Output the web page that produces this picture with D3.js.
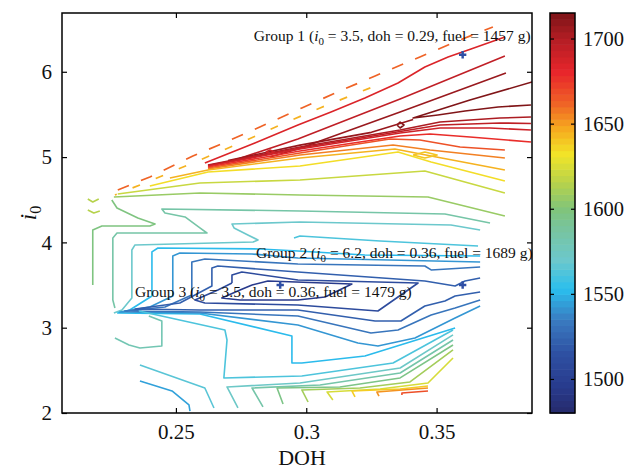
<!DOCTYPE html>
<html>
<head>
<meta charset="utf-8">
<script src="https://cdn.jsdelivr.net/npm/d3@7"></script>
<style>
body { margin: 0; background: #fff; }
svg text { font-family: "Liberation Serif", "DejaVu Serif", serif; fill: #111; }
</style>
</head>
<body>
<svg id="chart" width="627" height="471"></svg>
<script>
// axis setup
const xTicks = [0.25, 0.3, 0.35];
const yTicks = [2, 3, 4, 5, 6];
const cbTicks = [1500, 1550, 1600, 1650, 1700];
const xDomain = [0.2063, 0.3866];
const yDomain = [2, 6.689];
const cbDomain = [1480, 1715];

// colour map (fuel, g)
const stopValues = [1480, 1495, 1515, 1535, 1553, 1570, 1590, 1600, 1615, 1632, 1648, 1662, 1680, 1700, 1715];
const stopColors = ["#262a6b", "#283a8c", "#2e50a2", "#3a7cc1", "#2abfee", "#6cc8cc", "#79c49a", "#80c47a",
                    "#b6d24c", "#f2e528", "#f6a61e", "#ef6326", "#e8262b", "#b31d24", "#7c1417"];

// contour lines: [level, [[doh, i0], ...]]
const dashedLines = [
    [1662, [[0.2277,4.614],[0.2400,4.767],[0.2565,5.013],[0.2665,5.142],[0.2822,5.353],[0.2983,5.576],[0.3129,5.775],[0.3264,5.951],[0.3436,6.174],[0.3590,6.373],[0.3716,6.525]]],
    [1645, [[0.2266,4.556],[0.2400,4.720],[0.2592,4.966],[0.2746,5.165],[0.2899,5.376],[0.3053,5.576],[0.3206,5.763],[0.3302,5.880]]]
];

const topLines = [
    [1685, [[0.2611,4.931],[0.2803,5.165],[0.2968,5.376],[0.3095,5.529],[0.3225,5.693],[0.3352,5.869],[0.3455,6.056],[0.3544,6.174],[0.3632,6.267],[0.3762,6.408]]],
    [1695, [[0.2726,4.966],[0.2968,5.212],[0.3360,5.681],[0.3762,6.185]]],
    [1707, [[0.2861,5.001],[0.2968,5.095],[0.3360,5.529],[0.3766,5.986]]],
    [1714, [[0.3866,5.880],[0.3628,5.669],[0.3410,5.458],[0.3505,5.494],[0.3609,5.540],[0.3736,5.587],[0.3862,5.611]]],
    [1714, [[0.3348,5.376],[0.3360,5.411],[0.3375,5.376],[0.3360,5.341],[0.3348,5.376]]]
];

const bandLines = [
    [1708, [[0.2700,4.960],[0.2976,5.140],[0.3250,5.290],[0.3410,5.440]]],
    [1702, [[0.2623,4.907],[0.2976,5.118],[0.3360,5.318],[0.3513,5.411],[0.3743,5.458],[0.3862,5.470]]],
    [1696, [[0.2623,4.902],[0.2976,5.106],[0.3360,5.300],[0.3513,5.376],[0.3743,5.400],[0.3862,5.394]]],
    [1690, [[0.2623,4.896],[0.2976,5.095],[0.3360,5.283],[0.3513,5.341],[0.3705,5.341],[0.3862,5.318]]],
    [1678, [[0.2623,4.884],[0.2976,5.072],[0.3360,5.247],[0.3475,5.271],[0.3628,5.236],[0.3862,5.177]]],
    [1667, [[0.2623,4.872],[0.2976,5.048],[0.3321,5.212],[0.3436,5.200],[0.3590,5.118],[0.3762,5.083]]],
    [1656, [[0.2623,4.860],[0.2976,5.025],[0.3333,5.142],[0.3475,5.083],[0.3762,4.989]]],
    [1645, [[0.2477,4.755],[0.2623,4.849],[0.2976,4.989],[0.3340,5.095],[0.3479,5.013],[0.3762,4.849]]],
    [1634, [[0.2400,4.661],[0.2623,4.825],[0.2976,4.896],[0.3352,5.060],[0.3479,4.943],[0.3762,4.720]]],
    [1640, [[0.3410,5.025],[0.3455,5.060],[0.3502,5.025],[0.3455,4.989],[0.3410,5.025]]],
    [1690, [[0.2845,5.060],[0.2861,5.083],[0.2876,5.060],[0.2861,5.036],[0.2845,5.060]]]
];

const midLines = [
    [1620, [[0.2277,4.567],[0.2592,4.696],[0.2976,4.732],[0.3455,4.837],[0.3762,4.579]]],
    [1607, [[0.2262,4.532],[0.2592,4.579],[0.2976,4.556],[0.3467,4.532],[0.3762,4.309]]],
    [1598, [[0.2254,4.497],[0.2274,4.403],[0.2354,4.286],[0.2420,4.216],[0.2400,4.192],[0.2216,4.192],[0.2181,4.145],[0.2181,3.501]]],
    [1585, [[0.3705,4.227],[0.3532,4.333],[0.2976,4.368],[0.2446,4.392],[0.2458,4.345],[0.2535,4.298],[0.2592,4.169],[0.2619,4.110],[0.2274,4.110],[0.2258,4.052],[0.2258,3.325],[0.2266,3.231]]],
    [1570, [[0.3667,4.145],[0.3555,4.204],[0.2976,4.239],[0.2715,4.216],[0.2723,4.169],[0.2776,4.087],[0.2815,4.028],[0.2796,4.005],[0.2343,3.970],[0.2331,3.911],[0.2331,3.348],[0.2293,3.208],[0.2262,3.172]]],
    [1615, [[0.2162,4.509],[0.2181,4.474],[0.2204,4.509]]],
    [1615, [[0.2162,4.380],[0.2185,4.345],[0.2208,4.368]]],
    [1562, [[0.2953,4.052],[0.2976,4.075],[0.3283,4.016],[0.3659,3.958]]]
];

const blueLines = [
    [1552, [[0.3667,3.841],[0.3225,3.852],[0.2968,3.899],[0.2822,3.923],[0.2431,3.934],[0.2408,3.888],[0.2408,3.372],[0.2323,3.208],[0.2277,3.172],[0.2592,3.161],[0.2945,2.903],[0.2945,2.586],[0.2983,2.586],[0.3225,2.668],[0.3571,2.997]]],
    [1542, [[0.3667,3.770],[0.2968,3.817],[0.2792,3.864],[0.2515,3.876],[0.2488,3.841],[0.2488,3.372],[0.2400,3.243],[0.2285,3.184],[0.2592,3.172],[0.2968,3.032],[0.3198,2.821],[0.3275,2.785],[0.3417,2.879],[0.3571,3.114],[0.3667,3.254]]],
    [1532, [[0.3667,3.712],[0.3479,3.677],[0.3455,3.723],[0.2968,3.747],[0.2611,3.806],[0.2561,3.770],[0.2561,3.383],[0.2458,3.243],[0.2304,3.196],[0.2592,3.184],[0.2968,3.137],[0.3248,2.938],[0.3352,2.973],[0.3479,3.149],[0.3571,3.231],[0.3667,3.325]]],
    [1522, [[0.3667,3.583],[0.3609,3.548],[0.3571,3.489],[0.3455,3.548],[0.2968,3.653],[0.2661,3.723],[0.2638,3.700],[0.2638,3.489],[0.2515,3.290],[0.2343,3.219],[0.2592,3.208],[0.2968,3.208],[0.3264,3.078],[0.3363,3.078],[0.3455,3.254],[0.3532,3.313],[0.3571,3.372],[0.3667,3.419]]],
    [1510, [[0.2715,3.524],[0.2715,3.618],[0.2753,3.653],[0.2968,3.559],[0.3429,3.524],[0.3275,3.196],[0.2968,3.266],[0.2611,3.290],[0.2573,3.325],[0.2661,3.442],[0.2715,3.524]]],
    [1495, [[0.2792,3.501],[0.2853,3.548],[0.3175,3.512],[0.3072,3.360],[0.2968,3.325],[0.2746,3.325],[0.2676,3.348],[0.2746,3.442],[0.2792,3.501]]]
];

const bottomLines = [
    [1562, [[0.2358,3.196],[0.2688,2.973],[0.2696,2.856],[0.2684,2.411],[0.2983,2.434],[0.3333,2.586],[0.3563,2.973]]],
    [1572, [[0.2738,2.059],[0.2696,2.305],[0.2976,2.352],[0.3360,2.528],[0.3563,2.915]]],
    [1584, [[0.2834,2.071],[0.2792,2.293],[0.3053,2.328],[0.3360,2.469],[0.3563,2.856]]],
    [1596, [[0.2911,2.106],[0.2888,2.293],[0.3129,2.305],[0.3360,2.411],[0.3563,2.797]]],
    [1610, [[0.3007,2.129],[0.2983,2.270],[0.3206,2.293],[0.3398,2.364],[0.3563,2.739]]],
    [1624, [[0.3102,2.152],[0.3080,2.246],[0.3283,2.282],[0.3467,2.352],[0.3563,2.645]]],
    [1638, [[0.3187,2.188],[0.3175,2.258],[0.3360,2.282],[0.3467,2.317]]],
    [1652, [[0.3279,2.199],[0.3271,2.246],[0.3467,2.293]]],
    [1668, [[0.3367,2.211],[0.3367,2.234],[0.3467,2.258]]],
    [1580, [[0.2266,2.879],[0.2320,2.797],[0.2362,2.762],[0.2446,2.785],[0.2446,3.078],[0.2396,3.137]]],
    [1565, [[0.2362,2.563],[0.2611,2.293],[0.2646,2.059]]],
    [1545, [[0.2362,2.375],[0.2485,2.258],[0.2550,2.094],[0.2554,2.023]]]
];

// optimum points and their labels
const optima = [[0.36, 6.2], [0.29, 3.5], [0.36, 3.5]];
const labelPos = [[0.2799, 6.361], [0.2807, 3.817], [0.2343, 3.360]];
const labelGroup = ["Group 1", "Group 2", "Group 3"];
const labelI0 = ["3.5", "6.2", "3.5"];
const labelDoh = ["0.29", "0.36", "0.36"];
const labelFuel = ["1457", "1689", "1479"];

const svg = d3.select("#chart");
const margin = {left: 62, right: 95, top: 13, bottom: 58};
const W = 627, H = 471;

const x = d3.scaleLinear().domain(xDomain).range([margin.left, W - margin.right]);
const y = d3.scaleLinear().domain(yDomain).range([H - margin.bottom, margin.top]);
const color = d3.scaleLinear().domain(stopValues).range(stopColors).interpolate(d3.interpolateRgb);

svg.append("clipPath").attr("id", "plotclip")
    .append("rect")
    .attr("x", x.range()[0]).attr("y", y.range()[1])
    .attr("width", x.range()[1] - x.range()[0])
    .attr("height", y.range()[0] - y.range()[1]);

const line = d3.line().x(d => x(d[0])).y(d => y(d[1]));
const plot = svg.append("g").attr("clip-path", "url(#plotclip)");

const solid = [].concat(topLines, bandLines, midLines, blueLines, bottomLines);

plot.selectAll("path.contour")
    .data(solid)
    .enter().append("path")
    .attr("class", "contour")
    .attr("fill", "none")
    .attr("stroke", d => color(d[0]))
    .attr("stroke-width", 1.6)
    .attr("stroke-linejoin", "round")
    .attr("d", d => line(d[1]));

plot.selectAll("path.dashed")
    .data(dashedLines)
    .enter().append("path")
    .attr("class", "dashed")
    .attr("fill", "none")
    .attr("stroke", d => color(d[0]))
    .attr("stroke-width", 1.7)
    .attr("stroke-dasharray", (d, i) => i === 0 ? "12,13" : "8,17")
    .attr("stroke-dashoffset", (d, i) => i === 0 ? 0 : 6)
    .attr("d", d => line(d[1]));

plot.selectAll("path.opt")
    .data(optima)
    .enter().append("path")
    .attr("class", "opt")
    .attr("transform", d => `translate(${x(d[0])},${y(d[1])})`)
    .attr("d", d3.symbol(d3.symbolCross).size(30))
    .attr("fill", "#2f4fa5");

// group labels
labelPos.forEach((p, i) => {
    const t = svg.append("text")
        .attr("x", x(p[0])).attr("y", y(p[1]))
        .attr("font-size", 15.5);
    t.append("tspan").text(`${labelGroup[i]} (`);
    t.append("tspan").attr("font-style", "italic").text("i");
    t.append("tspan").attr("font-size", 11).attr("dy", 4).text("0");
    t.append("tspan").attr("dy", -4).text(` = ${labelI0[i]}, doh  = ${labelDoh[i]},  fuel  = ${labelFuel[i]} g)`);
});

// axes
svg.append("g")
    .attr("transform", `translate(0,${y.range()[0]})`)
    .call(d3.axisBottom(x).tickValues(xTicks).tickSize(-5).tickPadding(11).tickFormat(d => String(d)));
svg.append("g")
    .attr("transform", `translate(0,${y.range()[1]})`)
    .call(d3.axisTop(x).tickValues(xTicks).tickSize(-5).tickFormat(""));
svg.append("g")
    .attr("transform", `translate(${x.range()[0]},0)`)
    .call(d3.axisLeft(y).tickValues(yTicks).tickSize(-5).tickPadding(10).tickFormat(d => String(d)));
svg.append("g")
    .attr("transform", `translate(${x.range()[1]},0)`)
    .call(d3.axisRight(y).tickValues(yTicks).tickSize(-5).tickFormat(""));

svg.selectAll(".domain").remove();
svg.selectAll(".tick line").attr("stroke", "#000").attr("stroke-width", 1.2);
svg.selectAll(".tick text").attr("font-size", 21).attr("fill", "#111")
    .attr("font-family", "Liberation Serif, DejaVu Serif, serif");

svg.append("rect")
    .attr("x", x.range()[0]).attr("y", y.range()[1])
    .attr("width", x.range()[1] - x.range()[0])
    .attr("height", y.range()[0] - y.range()[1])
    .attr("fill", "none").attr("stroke", "#000").attr("stroke-width", 1.5);

// axis titles
svg.append("text")
    .attr("x", (x.range()[0] + x.range()[1]) / 2 + 5).attr("y", 465)
    .attr("text-anchor", "middle").attr("font-size", 22)
    .text("DOH");

const yl = svg.append("text")
    .attr("transform", `translate(36,${(y.range()[0] + y.range()[1]) / 2}) rotate(-90)`)
    .attr("text-anchor", "middle").attr("font-size", 23);
yl.append("tspan").attr("font-style", "italic").text("i");
yl.append("tspan").attr("font-size", 16).attr("dy", 5).text("0");

// colour bar
const cbX = 550, cbW = 25;
const cy = d3.scaleLinear().domain(cbDomain).range([y.range()[0], y.range()[1]]);
const nBands = 64;
const bandVals = d3.range(nBands).map(i => cbDomain[0] + (i + 0.5) * (cbDomain[1] - cbDomain[0]) / nBands);
const bandH = (cy.range()[0] - cy.range()[1]) / nBands;

svg.append("g").selectAll("rect")
    .data(bandVals)
    .enter().append("rect")
    .attr("x", cbX)
    .attr("y", d => cy(d) - bandH / 2)
    .attr("width", cbW)
    .attr("height", bandH + 0.6)
    .attr("fill", d => color(d));

svg.append("g")
    .attr("transform", `translate(${cbX + cbW},0)`)
    .call(d3.axisRight(cy).tickValues(cbTicks).tickSize(-4).tickPadding(8).tickFormat(d => String(d)))
    .call(g => g.select(".domain").remove())
    .call(g => g.selectAll(".tick line").attr("stroke", "#000").attr("stroke-width", 1.2))
    .call(g => g.selectAll(".tick text").attr("font-size", 20.5).attr("fill", "#111")
        .attr("font-family", "Liberation Serif, DejaVu Serif, serif"));

svg.append("g")
    .attr("transform", `translate(${cbX},0)`)
    .call(d3.axisLeft(cy).tickValues(cbTicks).tickSize(-4).tickFormat(""))
    .call(g => g.select(".domain").remove())
    .call(g => g.selectAll(".tick line").attr("stroke", "#000").attr("stroke-width", 1.2));

svg.append("rect")
    .attr("x", cbX).attr("y", cy.range()[1])
    .attr("width", cbW).attr("height", cy.range()[0] - cy.range()[1])
    .attr("fill", "none").attr("stroke", "#000").attr("stroke-width", 1.5);
</script>
</body>
</html>
